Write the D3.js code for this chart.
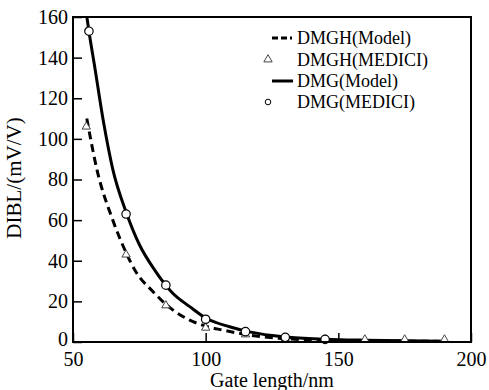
<!DOCTYPE html>
<html>
<head>
<meta charset="utf-8">
<script src="https://cdn.jsdelivr.net/npm/d3@7"></script>
<style>
  body { margin: 0; background: #fff; }
  text { font-family: "Liberation Serif", "Times New Roman", serif; fill: #000; }
</style>
</head>
<body>
<div id="chart"></div>
<script>
// gate length (nm) and DIBL (mV/V) values
const dmgModelX = [54.9, 56, 58, 61.4, 65, 70, 75, 80.8, 87.6, 94, 100, 109, 116.5, 130, 145, 160, 175, 190];
const dmgModelY = [163, 153, 137, 109, 85, 64, 48, 35.4, 24, 17.4, 11.8, 7.5, 5, 2.5, 1.4, 0.9, 0.6, 0.4];
const dmghModelX = [55.2, 59, 65, 70, 73.3, 80, 87.6, 94, 100, 106.4, 116.5, 130, 145, 160, 175, 190];
const dmghModelY = [110, 85, 60, 44, 35.4, 25, 15.8, 10.8, 7.8, 5.9, 3.4, 1.6, 0.9, 0.6, 0.4, 0.3];
const dmgMediciX = [56, 70, 85, 100, 115, 130, 145];
const dmgMediciY = [153, 63, 28, 11.2, 5.1, 2.3, 1.3];
const dmghMediciX = [55, 70, 85, 100, 115, 130, 145, 160, 175, 190];
const dmghMediciY = [106, 43, 18, 7, 3.7, 1.6, 1.2, 1.2, 1.2, 1.2];
const xTicks = [50, 100, 150, 200];
const yTicks = [0, 20, 40, 60, 80, 100, 120, 140, 160];
const legendLabels = ["DMGH(Model)", "DMGH(MEDICI)", "DMG(Model)", "DMG(MEDICI)"];

const width = 489, height = 390;
const margin = { top: 17, right: 18, bottom: 48, left: 73 };
const w = width - margin.left - margin.right;
const h = height - margin.top - margin.bottom;

const svg = d3.select("#chart").append("svg")
    .attr("width", width)
    .attr("height", height);

const g = svg.append("g")
    .attr("transform", `translate(${margin.left},${margin.top})`);

const x = d3.scaleLinear().domain([50, 200]).range([0, w]);
const y = d3.scaleLinear().domain([0, 160]).range([h, 0]);

svg.append("defs").append("clipPath").attr("id", "clip")
    .append("rect").attr("width", w).attr("height", h);

const zip = (xs, ys) => xs.map((v, i) => [v, ys[i]]);

const line = d3.line()
    .x(d => x(d[0]))
    .y(d => y(d[1]))
    .curve(d3.curveMonotoneX);

const plot = g.append("g").attr("clip-path", "url(#clip)");

plot.append("path")
    .datum(zip(dmghModelX, dmghModelY))
    .attr("d", line)
    .attr("fill", "none")
    .attr("stroke", "#000")
    .attr("stroke-width", 3)
    .attr("stroke-dasharray", "8,5");

plot.append("path")
    .datum(zip(dmgModelX, dmgModelY))
    .attr("d", line)
    .attr("fill", "none")
    .attr("stroke", "#000")
    .attr("stroke-width", 3);

const tri = d3.symbol().type(d3.symbolTriangle).size(30);

g.selectAll(".tri")
    .data(zip(dmghMediciX, dmghMediciY))
    .enter().append("path")
    .attr("class", "tri")
    .attr("d", tri)
    .attr("transform", d => `translate(${x(d[0])},${y(d[1])})`)
    .attr("fill", "#fff")
    .attr("stroke", "#444")
    .attr("stroke-width", 1);

g.selectAll(".circ")
    .data(zip(dmgMediciX, dmgMediciY))
    .enter().append("circle")
    .attr("class", "circ")
    .attr("cx", d => x(d[0]))
    .attr("cy", d => y(d[1]))
    .attr("r", 4.2)
    .attr("fill", "#fff")
    .attr("stroke", "#000")
    .attr("stroke-width", 1.2);

// axes with inward ticks
const xAxis = g.append("g")
    .attr("transform", `translate(0,${h})`)
    .call(d3.axisBottom(x).tickValues(xTicks).tickSize(-9).tickPadding(10));

const yAxis = g.append("g")
    .call(d3.axisLeft(y).tickValues(yTicks).tickSize(-9).tickPadding(5));

[xAxis, yAxis].forEach(a => {
    a.attr("font-family", "Liberation Serif");
    a.selectAll("text").attr("font-size", "20px");
    a.selectAll("line").attr("stroke", "#000").attr("stroke-width", 1.5);
    a.select(".domain").remove();
});

// lift the "0" label a touch so it clears the "50" below it
yAxis.selectAll(".tick text").filter(d => d === 0).attr("dy", "0.15em");

g.append("rect")
    .attr("width", w)
    .attr("height", h)
    .attr("fill", "none")
    .attr("stroke", "#000")
    .attr("stroke-width", 2);

svg.append("text")
    .attr("x", margin.left + w / 2)
    .attr("y", 387)
    .attr("text-anchor", "middle")
    .attr("font-size", "20px")
    .text("Gate length/nm");

svg.append("text")
    .attr("transform", "translate(21,178) rotate(-90)")
    .attr("text-anchor", "middle")
    .attr("font-size", "21px")
    .text("DIBL/(mV/V)");

// legend
const legend = svg.append("g");
const rowY = [38, 59.5, 81, 102];

legend.append("line")
    .attr("x1", 272).attr("x2", 292)
    .attr("y1", rowY[0]).attr("y2", rowY[0])
    .attr("stroke", "#000").attr("stroke-width", 3)
    .attr("stroke-dasharray", "6,3");

legend.append("path")
    .attr("d", tri)
    .attr("transform", `translate(268,${rowY[1]})`)
    .attr("fill", "#fff").attr("stroke", "#444");

legend.append("line")
    .attr("x1", 272).attr("x2", 293)
    .attr("y1", rowY[2]).attr("y2", rowY[2])
    .attr("stroke", "#000").attr("stroke-width", 3);

legend.append("circle")
    .attr("cx", 268).attr("cy", rowY[3]).attr("r", 2.8)
    .attr("fill", "#fff").attr("stroke", "#000");

legend.selectAll(".lt")
    .data(legendLabels)
    .enter().append("text")
    .attr("class", "lt")
    .attr("x", 297)
    .attr("y", (d, i) => rowY[i])
    .attr("dy", "0.35em")
    .attr("font-size", "18px")
    .text(d => d);
</script>
</body>
</html>
